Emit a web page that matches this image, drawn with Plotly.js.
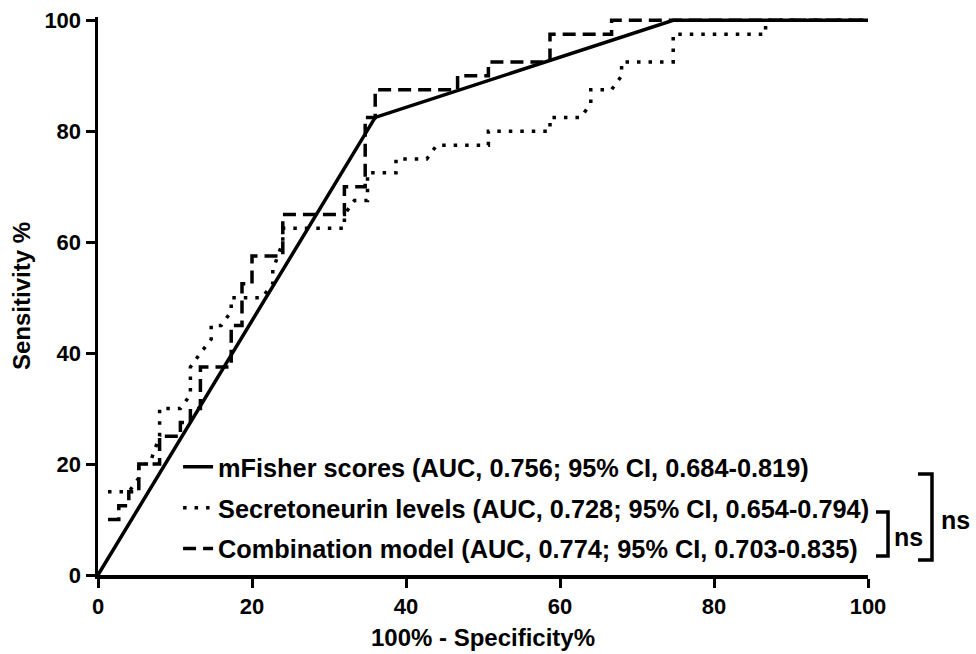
<!DOCTYPE html>
<html>
<head>
<meta charset="utf-8">
<script src="https://cdn.plot.ly/plotly-3.0.1.min.js"></script>
<style>html,body{margin:0;padding:0;background:#fff}</style>
</head>
<body>
<div id="chart" style="width:976px;height:654px"></div>
<script>
// ROC curves: 100% - specificity (x) vs sensitivity (y)
const seriesNames = [
  'mFisher scores (AUC, 0.756; 95% CI, 0.684-0.819)',
  'Secretoneurin levels (AUC, 0.728; 95% CI, 0.654-0.794)',
  'Combination model (AUC, 0.774; 95% CI, 0.703-0.835)'
];

const mfisherX = [0, 36, 74.7, 100];
const mfisherY = [0, 82.5, 100, 100];

const secretoneurinX = [1.3, 4, 5.3, 5.3, 6.7, 8, 8, 10.7, 12, 12, 13.3, 14.7, 14.7, 16, 17.3, 17.3,
  21.3, 22.7, 22.7, 24, 24, 32, 32, 33.3, 35, 35, 38.7, 38.7, 42.7, 44, 50.7, 50.7, 58.7, 58.7,
  62.7, 64, 64, 66.7, 68, 68, 74.7, 74.7, 86.7, 86.7, 100];
const secretoneurinY = [15, 15, 17.5, 20, 20, 25, 30, 30, 32.5, 37.5, 40, 42.5, 45, 45, 47.5, 50,
  50, 52.5, 55, 60, 62.5, 62.5, 65, 67.5, 67.5, 72.5, 72.5, 75, 75, 77.5, 77.5, 80, 80, 82.5,
  82.5, 85, 87.5, 87.5, 90, 92.5, 92.5, 97.5, 97.5, 100, 100];

const combinationX = [1.3, 2.7, 2.7, 4, 4, 5.3, 5.3, 8, 8, 10.7, 10.7, 12, 12, 13.3, 13.3, 17.3, 17.3,
  18.7, 18.7, 20, 20, 24, 24, 32, 32, 34.7, 34.7, 36, 36, 46.7, 46.7, 50.7, 50.7, 58.7, 58.7,
  66.7, 66.7, 100];
const combinationY = [10, 10, 12.5, 12.5, 15, 15, 20, 20, 25, 25, 27.5, 27.5, 30, 30, 37.5, 37.5, 45,
  45, 52.5, 52.5, 57.5, 57.5, 65, 65, 70, 70, 82.5, 82.5, 87.5, 87.5, 90, 90, 92.5, 92.5, 97.5,
  97.5, 100, 100];

const tickVals = [0, 20, 40, 60, 80, 100];
const tickText = ['0', '20', '40', '60', '80', '100'];
const bracketLabels = ['ns', 'ns'];

const FONT = 'Liberation Sans, Arial, Helvetica, sans-serif';
const LW = 3.5;

const traces = [
  {x: mfisherX, y: mfisherY, name: seriesNames[0], mode: 'lines', legendgroup: 'a',
   line: {color: '#000', width: LW}},
  {x: secretoneurinX, y: secretoneurinY, name: seriesNames[1], mode: 'lines', legendgroup: 'b',
   line: {color: '#000', width: LW, dash: '3.5px,8px'}},
  {x: combinationX, y: combinationY, name: seriesNames[2], mode: 'lines', legendgroup: 'c',
   line: {color: '#000', width: LW, dash: '13px,7px'}}
];

// bracket geometry in paper units (right of the plot area)
function bracket(x0, x1, yTop, yBot) {
  return {type: 'path', xref: 'paper', yref: 'paper',
    path: `M ${x0} ${yTop} L ${x1} ${yTop} L ${x1} ${yBot} L ${x0} ${yBot}`,
    line: {color: '#000', width: LW}};
}

const axisCommon = {
  range: [0, 100], tickmode: 'array', tickvals: tickVals, ticktext: tickText,
  showgrid: false, zeroline: false, showline: true, linecolor: '#000', linewidth: LW,
  ticks: 'outside', ticklen: 9, tickwidth: 3, tickcolor: '#000',
  tickfont: {family: FONT, size: 22, color: '#000', weight: 'bold'}
};

const layout = {
  width: 976, height: 654,
  margin: {l: 98, r: 108, t: 16.7, b: 79},
  paper_bgcolor: '#fff', plot_bgcolor: '#fff',
  font: {family: FONT, color: '#000'},
  xaxis: Object.assign({}, axisCommon, {
    title: {text: '100% - Specificity%', font: {family: FONT, size: 24, color: '#000', weight: 'bold'}, standoff: 12}
  }),
  yaxis: Object.assign({}, axisCommon, {
    range: [0, 100.6],
    title: {text: 'Sensitivity %', font: {family: FONT, size: 24, color: '#000', weight: 'bold'}, standoff: 8}
  }),
  showlegend: true,
  legend: {
    x: 0.104, y: 0.235, xanchor: 'left', yanchor: 'top',
    bgcolor: 'rgba(0,0,0,0)', borderwidth: 0, tracegroupgap: 5,
    font: {family: FONT, size: 25.3, color: '#000', weight: 'bold'}
  },
  shapes: [
    bracket(1.0104, 1.026, 0.1128, 0.034),
    bracket(1.0649, 1.0831, 0.1809, 0.0269)
  ],
  annotations: [
    {xref: 'paper', yref: 'paper', x: 1.052, y: 0.068, xanchor: 'center', yanchor: 'middle',
     text: bracketLabels[0], showarrow: false,
     font: {family: FONT, size: 25, color: '#000', weight: 'bold'}},
    {xref: 'paper', yref: 'paper', x: 1.113, y: 0.0985, xanchor: 'center', yanchor: 'middle',
     text: bracketLabels[1], showarrow: false,
     font: {family: FONT, size: 25, color: '#000', weight: 'bold'}}
  ]
};

Plotly.newPlot('chart', traces, layout, {displayModeBar: false, staticPlot: true});
</script>
</body>
</html>
